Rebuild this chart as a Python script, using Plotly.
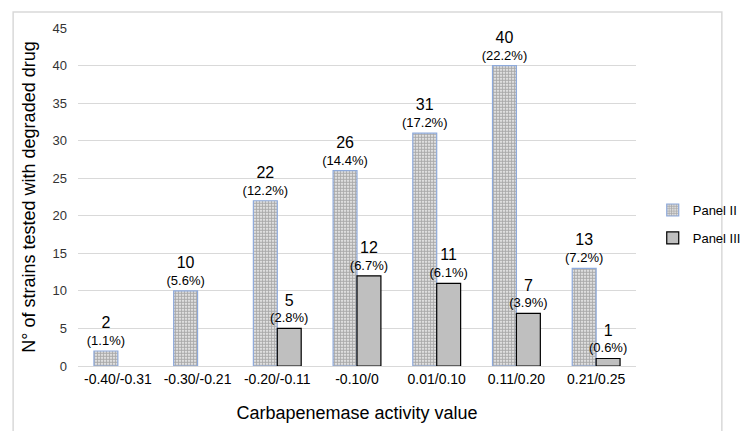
import plotly.graph_objects as go

categories = ["-0.40/-0.31", "-0.30/-0.21", "-0.20/-0.11", "-0.10/0", "0.01/0.10", "0.11/0.20", "0.21/0.25"]
panel2_vals = [2, 10, 22, 26, 31, 40, 13]
panel2_pct = ["1.1%", "5.6%", "12.2%", "14.4%", "17.2%", "22.2%", "7.2%"]
panel3_vals = [None, None, 5, 12, 11, 7, 1]
panel3_pct = [None, None, "2.8%", "6.7%", "6.1%", "3.9%", "0.6%"]

def labels(vals, pcts):
    out = []
    for v, p in zip(vals, pcts):
        if v is None:
            out.append("")
        else:
            out.append(f'<span style="font-size:16px">{v}</span><br>({p})')
    return out

fig = go.Figure()
fig.add_trace(go.Bar(
    name="Panel II", x=categories, y=panel2_vals, legendgroup="p2",
    text=labels(panel2_vals, panel2_pct), textposition="outside",
    constraintext="none", cliponaxis=False,
    textfont=dict(size=13, color="#000000", family="Liberation Sans, Arial"),
    marker=dict(color="white", line=dict(color="#8eaadb", width=1.2),
                pattern=dict(shape=".", fgcolor="#555555", bgcolor="white", size=3, solidity=0.7)),
))
fig.add_trace(go.Bar(
    name="Panel III", x=categories, y=panel3_vals, legendgroup="p3",
    text=labels(panel3_vals, panel3_pct), textposition="outside",
    constraintext="none", cliponaxis=False,
    textfont=dict(size=13, color="#000000", family="Liberation Sans, Arial"),
    marker=dict(color="#bfbfbf", line=dict(color="#000000", width=1.2)),
))

fig.update_layout(
    width=750, height=431,
    margin=dict(l=70, r=95, t=20, b=73),
    paper_bgcolor="white", plot_bgcolor="white",
    barmode="group", bargap=0.4, bargroupgap=0,
    font=dict(family="Liberation Sans, Arial", color="#000000"),
    showlegend=True,
    legend=dict(x=1.03, y=0.42, xanchor="left", yanchor="middle",
                font=dict(size=13, color="#000000"), tracegroupgap=8,
                itemwidth=30, bgcolor="rgba(0,0,0,0)"),
    xaxis=dict(
        type="category", showgrid=False, showline=True, linecolor="#d9d9d9", linewidth=1,
        tickfont=dict(size=14, color="#000000"), ticks="",
        title=dict(text="Carbapenemase activity value", font=dict(size=18, color="#000000"), standoff=20),
    ),
    yaxis=dict(
        range=[0, 45], dtick=5, showgrid=True, gridcolor="#d9d9d9", gridwidth=1,
        zeroline=False, showline=False, ticks="", ticklabelstandoff=10,
        tickfont=dict(size=13, color="#333333"),
        title=dict(text="N° of strains tested with degraded drug", font=dict(size=18, color="#000000"), standoff=12),
    ),
    shapes=[dict(type="rect", xref="paper", yref="paper",
                 x0=(2 - 70) / 585, x1=(745 - 70) / 585,
                 y0=(358 - 428) / 338, y1=(358 - 4) / 338,
                 line=dict(color="#d9d9d9", width=1.5), fillcolor="rgba(0,0,0,0)", layer="below")],
)

fig.write_html("out.html")
